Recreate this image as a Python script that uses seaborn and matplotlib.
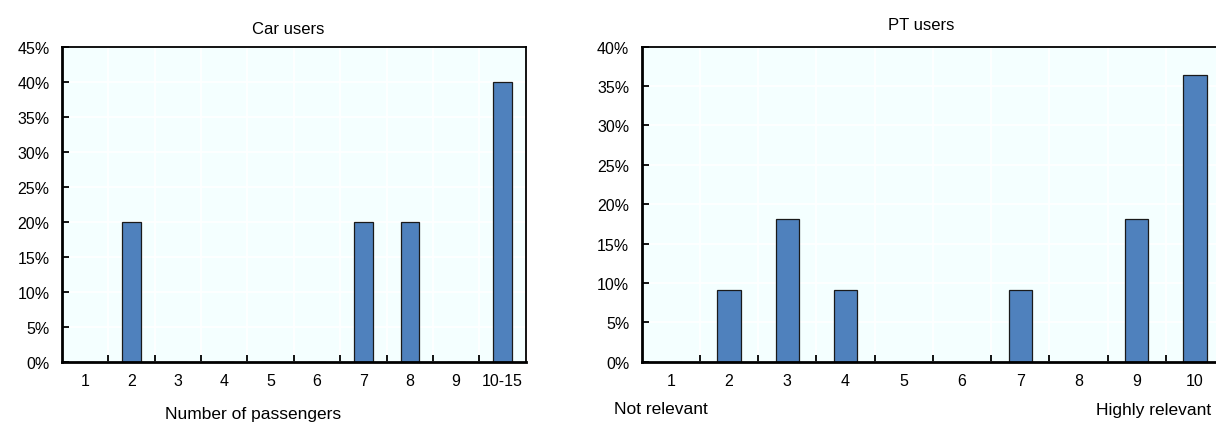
import matplotlib
matplotlib.use("Agg")
import matplotlib.pyplot as plt
import seaborn as sns
import pandas as pd
from matplotlib.ticker import FixedLocator, FuncFormatter

car_categories = ["1", "2", "3", "4", "5", "6", "7", "8", "9", "10-15"]
car_values = [0, 20, 0, 0, 0, 0, 20, 20, 0, 40]
pt_categories = ["1", "2", "3", "4", "5", "6", "7", "8", "9", "10"]
pt_values = [0, 9.09, 18.18, 9.09, 0, 0, 9.09, 0, 18.18, 36.36]

car_yticks = [0, 5, 10, 15, 20, 25, 30, 35, 40, 45]
pt_yticks = [0, 5, 10, 15, 20, 25, 30, 35, 40]

sns.set_style("white")
plt.rcParams["font.family"] = ["Liberation Sans", "DejaVu Sans"]
plt.rcParams["text.color"] = "black"
plt.rcParams["xtick.color"] = "black"
plt.rcParams["ytick.color"] = "black"

BAR = "#4F81BD"
BG = "#F4FFFF"

W, H = 1216, 431
fig = plt.figure(figsize=(W / 100, H / 100), dpi=100)

def px_axes(x0, y0, x1, y1):
    return fig.add_axes([x0 / W, 1 - y1 / H, (x1 - x0) / W, (y1 - y0) / H])

ax1 = px_axes(62, 48, 525.7, 362.7)
ax2 = px_axes(641.7, 47.7, 1224, 362.7)

def draw(ax, cats, vals, yticks):
    df = pd.DataFrame({"cat": cats, "val": vals})
    ax.set_facecolor(BG)
    ax.set_axisbelow(True)
    sns.barplot(data=df, x="cat", y="val", ax=ax, color=BAR, width=0.4,
                edgecolor="#1a1a1a", linewidth=0.9, saturation=1)
    n = len(cats)
    ax.set_xlim(-0.5, n - 0.5)
    ax.set_ylim(yticks[0], yticks[-1])
    ax.set_yticks(yticks)
    ax.yaxis.set_major_formatter(FuncFormatter(lambda v, p: f"{v:.0f}%"))
    ax.xaxis.set_minor_locator(FixedLocator([i + 0.5 for i in range(n - 1)]))
    ax.tick_params(axis="x", which="both", bottom=True)
    ax.tick_params(axis="y", which="both", left=True)
    ax.tick_params(axis="x", which="major", length=0, labelsize=11.5, pad=8)
    ax.tick_params(axis="x", which="minor", direction="in", length=5, width=1.3, color="black")
    ax.tick_params(axis="y", which="major", direction="in", length=5, width=1.3, color="black",
                   labelsize=11.5, pad=9)
    ax.grid(which="minor", axis="x", color="white", linewidth=1.2)
    ax.grid(which="major", axis="y", color="white", linewidth=1.2)
    ax.set_xlabel("")
    ax.set_ylabel("")
    for s in ax.spines.values():
        s.set_visible(True)
        s.set_color("black")
        s.set_linewidth(1.3)
    ax.spines["bottom"].set_linewidth(2)
    ax.spines["left"].set_linewidth(2)

draw(ax1, car_categories, car_values, car_yticks)
draw(ax2, pt_categories, pt_values, pt_yticks)

fig.text(288 / W, 1 - 30 / H, "Car users", ha="center", va="center", fontsize=12)
fig.text(921 / W, 1 - 25 / H, "PT users", ha="center", va="center", fontsize=12)
fig.text(253 / W, 1 - 415 / H, "Number of passengers", ha="center", va="center", fontsize=12.5)
fig.text(614 / W, 1 - 410 / H, "Not relevant", ha="left", va="center", fontsize=12.5)
fig.text(1211 / W, 1 - 411 / H, "Highly relevant", ha="right", va="center", fontsize=12.5)

fig.savefig("out.png", dpi=100, facecolor="white")
